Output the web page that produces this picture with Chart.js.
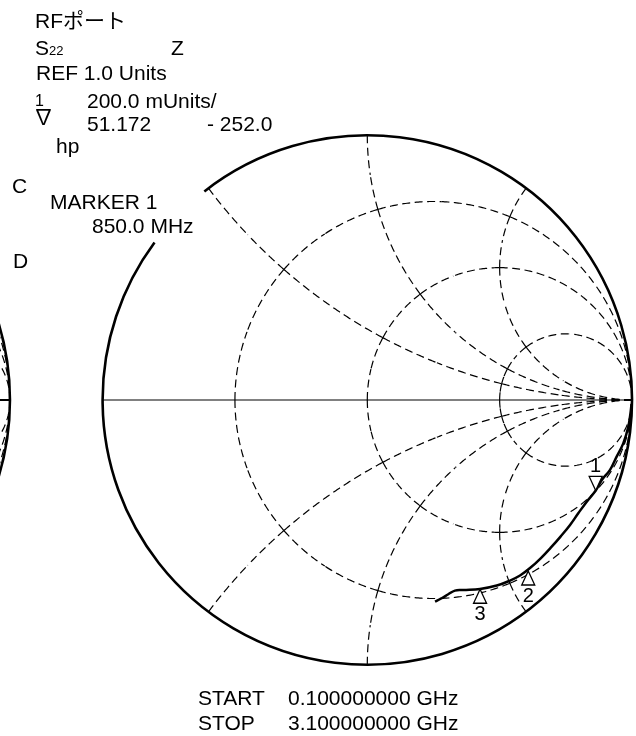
<!DOCTYPE html>
<html>
<head>
<meta charset="utf-8">
<script src="https://cdn.jsdelivr.net/npm/chart.js@4.4.1/dist/chart.umd.min.js"></script>
<style>
  html, body { margin: 0; padding: 0; background: #fff; }
  #wrap { position: relative; width: 636px; height: 736px; overflow: hidden; }
  #wrap canvas { position: absolute; left: 0; top: 0; }
  .lbl { position: absolute; white-space: pre; color: #000;
         font-family: "Liberation Sans", Arial, "Noto Sans CJK JP", "DejaVu Sans", sans-serif; }
</style>
</head>
<body>
<div id="wrap"><canvas id="smith" width="636" height="736"></canvas></div>
<script>
// ---- S22 sweep, reflection coefficient (real / imaginary), 0.1 → 3.1 GHz ----
const traceRe = [0.998, 0.995, 0.986, 0.967, 0.942, 0.917, 0.886, 0.863, 0.829, 0.797, 0.766, 0.730,
                 0.694, 0.656, 0.617, 0.577, 0.535, 0.489, 0.426, 0.363, 0.331, 0.306, 0.281, 0.256];
const traceIm = [-0.015, -0.044, -0.101, -0.164, -0.214, -0.264, -0.302, -0.342, -0.384, -0.428, -0.472, -0.516,
                 -0.557, -0.597, -0.633, -0.663, -0.684, -0.701, -0.714, -0.718, -0.720, -0.734, -0.749, -0.762];

// ---- sweep / marker readout ----
const sweepGHz = [0.1, 3.1];            // START, STOP
const Z0 = 50;
const marker1FreqMHz = 850.0;
const marker1R = 51.172;                // ohms
const marker1X = -252.0;                // ohms
const markerLabels = ['1', '2', '3'];
const markerRe = [null, 0.608, 0.426];  // marker 1 comes from its impedance readout
const markerIm = [null, -0.646, -0.715];
const markerPointsDown = [true, false, false];

// ---- graticule ----
const resistanceCircles = [1 / 3, 1, 3];
const reactanceArcs = [0.5, 1, 2];
const neighbourCenter = -2.35;          // second chart to the left, in reflection units

// ---- display ----
const scaleText = ['REF 1.0 Units', '200.0 mUnits/'];

function gammaOf(r, x) {
  if (!isFinite(r) || !isFinite(x)) return [1, 0];
  const den = (r + 1) * (r + 1) + x * x;
  return [(r * r + x * x - 1) / den, 2 * x / den];
}

const m1 = gammaOf(marker1R / Z0, marker1X / Z0);
markerRe[0] = m1[0];
markerIm[0] = m1[1];

// Headline and footer text, positioned by baseline
const labelItems = [
  { x: 35, y: 28, parts: [['RFポート', 21]] },
  { x: 35, y: 55, parts: [['S', 21], ['22', 13]] },
  { x: 171, y: 55, parts: [['Z', 21]] },
  { x: 36, y: 80, parts: [[scaleText[0], 21]] },
  { x: 35, y: 107, parts: [['1', 16]] },
  { x: 33, y: 124, parts: [['∇', 21]] },
  { x: 87, y: 108, parts: [[scaleText[1], 21]] },
  { x: 87, y: 131, parts: [[marker1R.toFixed(3), 21]] },
  { x: 207, y: 131, parts: [[(marker1X < 0 ? '- ' : '') + Math.abs(marker1X).toFixed(1), 21]] },
  { x: 56, y: 153, parts: [['hp', 21]] },
  { x: 12, y: 193, parts: [['C', 21]] },
  { x: 50, y: 209, parts: [['MARKER 1', 21]] },
  { x: 92, y: 233, parts: [[marker1FreqMHz.toFixed(1) + ' MHz', 21]] },
  { x: 13, y: 268, parts: [['D', 21]] },
  { x: 198, y: 705, parts: [['START', 21]] },
  { x: 288, y: 705, parts: [[sweepGHz[0].toFixed(9) + ' GHz', 21]] },
  { x: 198, y: 730, parts: [['STOP', 21]] },
  { x: 288, y: 730, parts: [[sweepGHz[1].toFixed(9) + ' GHz', 21]] }
];

const wrap = document.getElementById('wrap');
labelItems.forEach(item => {
  const size = Math.max(...item.parts.map(p => p[1]));
  const div = document.createElement('div');
  div.className = 'lbl';
  div.style.left = item.x + 'px';
  div.style.top = (item.y - 0.8465 * size) + 'px';
  div.style.fontSize = size + 'px';
  div.style.lineHeight = size + 'px';
  item.parts.forEach(([txt, sz]) => {
    const span = document.createElement('span');
    span.textContent = txt;
    span.style.fontSize = sz + 'px';
    div.appendChild(span);
  });
  wrap.appendChild(div);
});

// ---- drawing helpers ----
function strokeParam(ctx, toPx, f, t0, t1, n) {
  ctx.beginPath();
  for (let i = 0; i <= n; i++) {
    const t = t0 + (t1 - t0) * i / n;
    const g = f(t);
    const p = toPx(g[0], g[1]);
    if (i === 0) ctx.moveTo(p[0], p[1]); else ctx.lineTo(p[0], p[1]);
  }
  ctx.stroke();
}

// each graticule segment is dashed from both of its ends toward the middle
function dashedSegment(ctx, toPx, f, t0, t1) {
  const tm = (t0 + t1) / 2;
  strokeParam(ctx, toPx, f, t0, tm, 40);
  strokeParam(ctx, toPx, f, t1, tm, 40);
}

function drawGraticule(ctx, toPx) {
  const xs = [...reactanceArcs].reverse().map(v => -v).concat([0], reactanceArcs);
  resistanceCircles.forEach(r => {
    const b = [-Math.PI / 2, ...xs.map(Math.atan), Math.PI / 2];
    for (let i = 0; i < b.length - 1; i++) {
      dashedSegment(ctx, toPx, u => gammaOf(r, Math.tan(u)), b[i], b[i + 1]);
    }
  });
  reactanceArcs.concat(reactanceArcs.map(v => -v)).forEach(x => {
    const b = [0, ...resistanceCircles.map(Math.atan), Math.PI / 2];
    for (let i = 0; i < b.length - 1; i++) {
      dashedSegment(ctx, toPx, v => gammaOf(Math.tan(v), x), b[i], b[i + 1]);
    }
  });
}

const smithPlugin = {
  id: 'smithGraticule',
  beforeDatasetsDraw(chart) {
    const { ctx, scales: { x: sx, y: sy } } = chart;
    const R = sx.getPixelForValue(1) - sx.getPixelForValue(0);
    const d2r = Math.PI / 180;
    ctx.save();

    // neighbouring chart, only its right rim is on the page
    const nx = sx.getPixelForValue(neighbourCenter), ny = sy.getPixelForValue(0);
    ctx.strokeStyle = '#000';
    ctx.lineWidth = 2;
    ctx.setLineDash([]);
    ctx.beginPath(); ctx.moveTo(0, ny); ctx.lineTo(nx + R, ny); ctx.stroke();
    ctx.lineWidth = 1.2;
    ctx.setLineDash([8, 4.5]);
    drawGraticule(ctx, (gr, gi) => [sx.getPixelForValue(neighbourCenter + gr), sy.getPixelForValue(gi)]);
    ctx.setLineDash([]);
    ctx.lineWidth = 2.6;
    ctx.beginPath(); ctx.arc(nx, ny, R, 0, 2 * Math.PI); ctx.stroke();

    // main chart: real axis
    const cx = sx.getPixelForValue(0), cy = sy.getPixelForValue(0);
    ctx.strokeStyle = '#808080';
    ctx.lineWidth = 2;
    ctx.beginPath(); ctx.moveTo(cx - R, cy); ctx.lineTo(cx + R, cy); ctx.stroke();

    // constant resistance / reactance contours
    ctx.strokeStyle = '#000';
    ctx.lineWidth = 1.2;
    ctx.setLineDash([8, 4.5]);
    drawGraticule(ctx, (gr, gi) => [sx.getPixelForValue(gr), sy.getPixelForValue(gi)]);

    // rim, left open where the marker readout sits
    ctx.setLineDash([]);
    ctx.lineWidth = 2.6;
    ctx.beginPath();
    ctx.arc(cx, cy, R, -128 * d2r, (360 - 143.5) * d2r, false);
    ctx.stroke();
    ctx.restore();
  },
  afterDatasetsDraw(chart) {
    const { ctx, scales: { x: sx, y: sy } } = chart;
    ctx.save();
    ctx.setLineDash([]);
    ctx.lineWidth = 1.3;
    ctx.strokeStyle = '#000';
    ctx.fillStyle = '#000';
    ctx.font = '20px "Liberation Sans", Arial, sans-serif';
    ctx.textAlign = 'center';
    ctx.textBaseline = 'alphabetic';
    const w = 13, h = 14;
    markerLabels.forEach((lab, i) => {
      const px = sx.getPixelForValue(markerRe[i]);
      const py = sy.getPixelForValue(markerIm[i]);
      const dir = markerPointsDown[i] ? -1 : 1;   // triangle body above (down-pointing) or below
      ctx.beginPath();
      ctx.moveTo(px, py);
      ctx.lineTo(px - w / 2, py + dir * h);
      ctx.lineTo(px + w / 2, py + dir * h);
      ctx.closePath();
      ctx.fillStyle = '#fff';
      ctx.fill();
      ctx.stroke();
      ctx.fillStyle = '#000';
      if (markerPointsDown[i]) ctx.fillText(lab, px, py - h - 4);
      else ctx.fillText(lab, px, py + h + 17);
    });
    ctx.restore();
  }
};

new Chart(document.getElementById('smith'), {
  type: 'scatter',
  data: {
    datasets: [{
      label: 'S22',
      data: traceRe.map((v, i) => ({ x: v, y: traceIm[i] })),
      showLine: true,
      borderColor: '#000',
      borderWidth: 2.5,
      pointRadius: 0,
      tension: 0.4,
      fill: false,
      clip: false
    }]
  },
  options: {
    responsive: false,
    animation: false,
    devicePixelRatio: 1,
    events: [],
    layout: { padding: { left: 102.6, right: 4, top: 135.3, bottom: 71.3 } },
    scales: {
      x: { type: 'linear', min: -1, max: 1, display: false },
      y: { type: 'linear', min: -1, max: 1, display: false }
    },
    plugins: { legend: { display: false }, tooltip: { enabled: false }, title: { display: false } }
  },
  plugins: [smithPlugin]
});
</script>
</body>
</html>
